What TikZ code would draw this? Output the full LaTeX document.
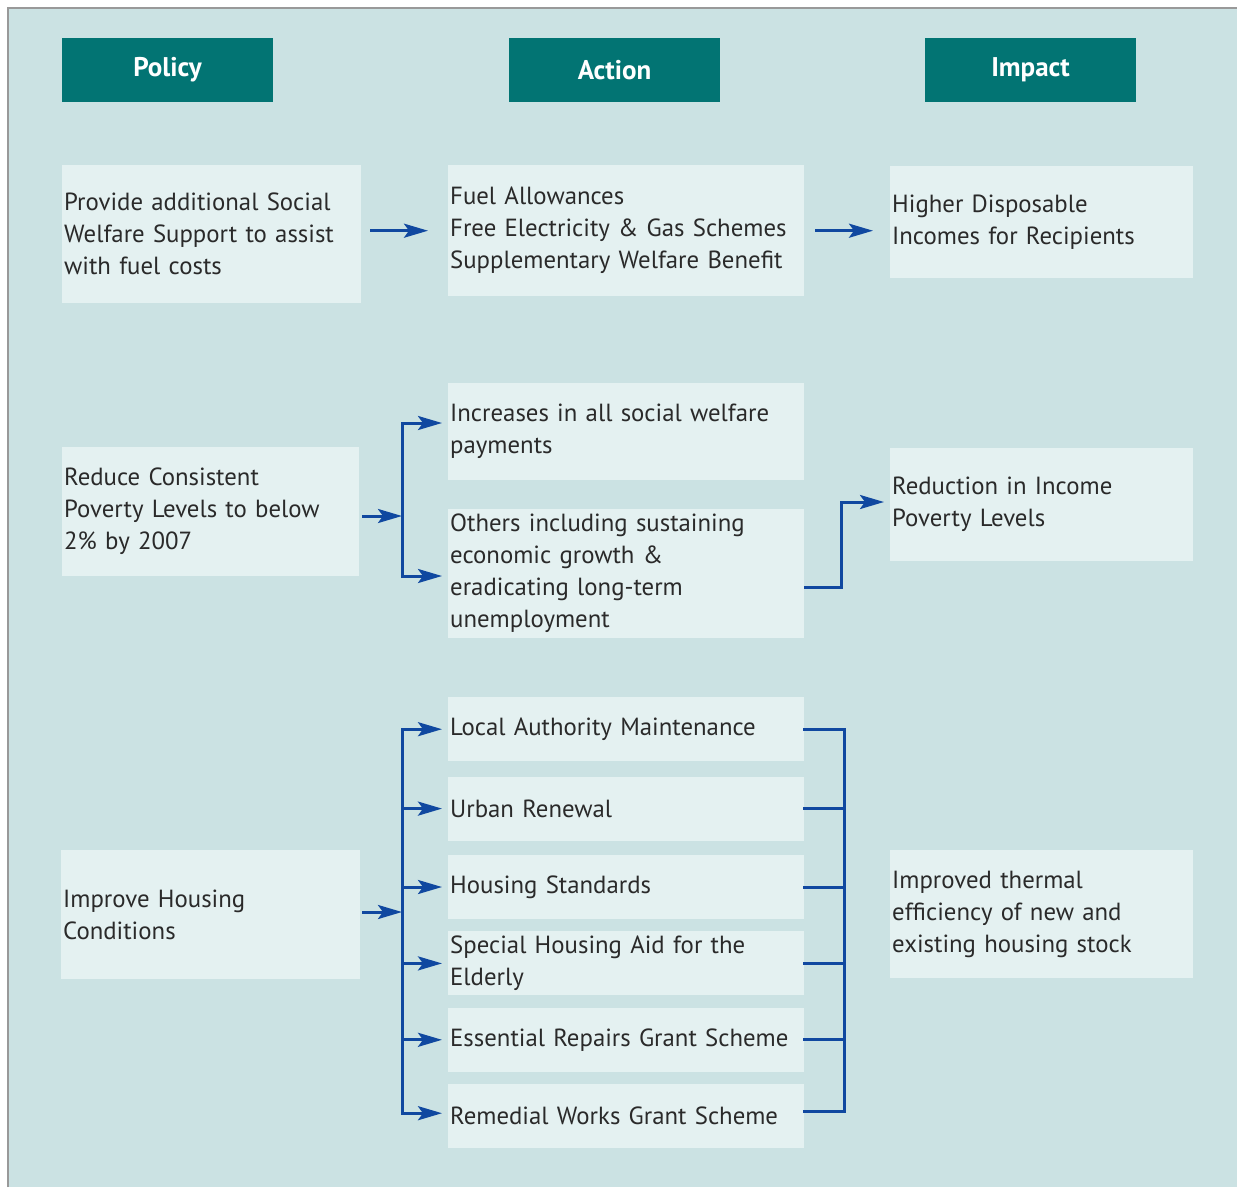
\documentclass[tikz,border=0pt]{standalone}
\usepackage{fontspec}
\setmainfont{PT Sans}
\usetikzlibrary{positioning, arrows.meta}
\definecolor{bgfill}{RGB}{203,226,227}
\definecolor{boxfill}{RGB}{228,241,241}
\definecolor{headteal}{RGB}{2,116,115}
\definecolor{linkblue}{RGB}{16,72,160}
\definecolor{textgray}{RGB}{42,42,42}
\tikzset{
    x=1pt, y=-1pt, % one unit per pixel, y running down
    heading/.style={fill=headteal, text=white, font=\fontsize{27}{30}\selectfont\bfseries, minimum width=211pt, minimum height=64pt, inner sep=0pt}, % column titles
    box/.style={fill=boxfill, text=textgray, font=\fontsize{24.8}{32}\selectfont, align=left, anchor=north west, inner xsep=2pt, inner ysep=0pt}, % pale text boxes
    link/.style={draw=linkblue, line width=3pt, -{Stealth[length=24pt, width=14pt, inset=5pt]}}, % blue arrows
    bracket/.style={draw=linkblue, line width=3pt, line cap=rect}, % plain blue lines
}

\begin{document}
\begin{tikzpicture}
    \useasboundingbox (0,0) rectangle (1237,1187);
    \fill[bgfill] (8,8) rectangle (1237,1187);
    \draw[gray!80, line width=1.5pt] (8,1187) -- (8,8) -- (1237,8);

    \node[heading] (hpolicy) at (167.5,70) {Policy};
    \node[heading] (haction) at (614.5,70) {Action};
    \node[heading] (himpact) at (1030.5,70) {Impact};

    % fuel costs
    \node[box, text width=295pt, minimum height=138pt] (p1) at (62,165) {Provide additional Social\\Welfare Support to assist\\with fuel costs};
    \node[box, text width=352pt, minimum height=131pt] (a1) at (448,165) {Fuel Allowances\\Free Electricity \& Gas Schemes\\Supplementary Welfare Benefit};
    \node[box, text width=299pt, minimum height=112pt] (i1) at (890,166) {Higher Disposable\\Incomes for Recipients};
    \draw[link, shorten <=9pt, shorten >=20pt] (p1.east |- a1.west) -- (a1.west);
    \draw[link, shorten <=11pt, shorten >=17pt] (a1.east) -- (a1.east -| i1.west);

    % poverty
    \node[box, text width=293pt, minimum height=129pt] (p2) at (62,447) {Reduce Consistent\\Poverty Levels to below\\2\% by 2007};
    \node[box, text width=352pt, minimum height=97pt] (a2) at (448,383) {Increases in all social welfare\\payments};
    \node[box, text width=352pt, minimum height=129pt, below=28pt of a2] (a3) {Others including sustaining\\economic growth \&\\eradicating long-term\\unemployment};
    \node[box, text width=299pt, minimum height=113pt] (i2) at (890,448) {Reduction in Income\\Poverty Levels};
    \coordinate (s2) at (402,516);
    \coordinate (s2t) at (402,423);
    \coordinate (s2b) at (402,576);
    \coordinate (k2) at (841,502);
    \draw[link, shorten <=3pt] (p2.east |- s2) -- (s2);
    \draw[bracket] (s2t) -- (s2b);
    \path (s2t) edge[link, shorten >=6pt] (s2t -| a2.west)
        (s2b) edge[link, shorten >=6pt] (s2b -| a3.west);
    \draw[link, shorten >=6pt] ([yshift=-14pt]a3.east) -| (k2) -- (k2 -| i2.west);

    % housing
    \node[box, text width=295pt, minimum height=129pt] (p3) at (61,850) {Improve Housing\\Conditions};
    \node[box, text width=352pt, minimum height=64pt] (a4) at (448,697) {Local Authority Maintenance};
    \node[box, text width=352pt, minimum height=64pt, below=15pt of a4] (a5) {Urban Renewal};
    \node[box, text width=352pt, minimum height=64pt, below=14pt of a5] (a6) {Housing Standards};
    \node[box, text width=352pt, minimum height=64pt, below=12pt of a6] (a7) {Special Housing Aid for the\\Elderly};
    \node[box, text width=352pt, minimum height=64pt, below=12pt of a7] (a8) {Essential Repairs Grant Scheme};
    \node[box, text width=352pt, minimum height=64pt, below=12pt of a8] (a9) {Remedial Works Grant Scheme};
    \node[box, text width=299pt, minimum height=128pt] (i3) at (890,850) {Improved thermal\\efficiency of new and\\existing housing stock};
    \coordinate (s3) at (402,912);
    \coordinate (r3) at (844,912);
    \draw[link, shorten <=2pt] (p3.east |- s3) -- (s3);
    \draw[bracket] (s3 |- a4.west) -- ([yshift=3pt]s3 |- a9.west);
    \path (s3 |- a4.west) edge[link, shorten >=6pt] (a4.west)
        (s3 |- a5.west) edge[link, shorten >=6pt] (a5.west)
        (s3 |- a6.west) edge[link, shorten >=6pt] (a6.west)
        (s3 |- a7.west) edge[link, shorten >=6pt] (a7.west)
        (s3 |- a8.west) edge[link, shorten >=6pt] (a8.west)
        ([yshift=3pt]s3 |- a9.west) edge[link, shorten >=6pt] ([yshift=3pt]a9.west);
    \draw[bracket] (a4.east) -| ([yshift=5pt]r3 |- a9.east) -- ([yshift=5pt]a9.east);
    \draw[bracket] (a5.east) -- (a5.east -| r3)
        (a6.east) -- (a6.east -| r3)
        (a7.east) -- (a7.east -| r3)
        (a8.east) -- (a8.east -| r3);
\end{tikzpicture}
\end{document}
